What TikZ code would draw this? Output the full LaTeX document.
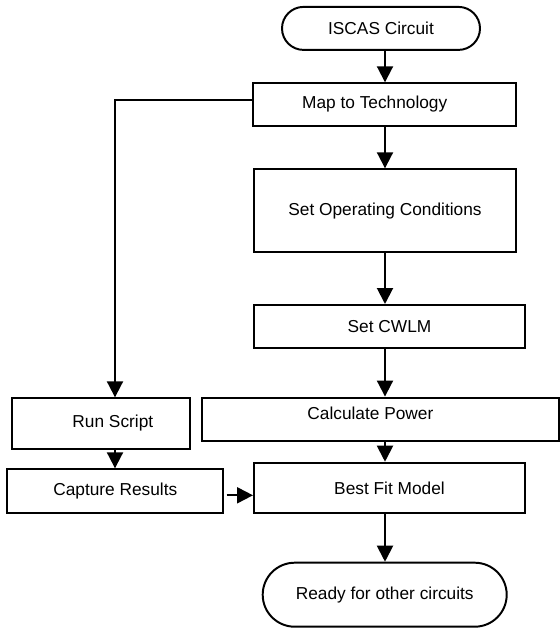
\documentclass[tikz,border=0pt]{standalone}
\usepackage{fontspec}
\setmainfont{Liberation Sans}
\usetikzlibrary{shapes.misc,arrows.meta}

\tikzset{
  stepbox/.style={draw, line width=1.4pt, inner sep=0pt},
  terminal/.style={rounded rectangle, draw, line width=1.4pt, inner sep=0pt},
  flow/.style={line width=1.4pt, -{Triangle[length=4mm,width=4mm]}}
}

\begin{document}
\begin{tikzpicture}[font=\fontsize{12.3}{14}\selectfont]
	\useasboundingbox (0,0) rectangle (14,-15.7);
	% x of the main column and of the side branch
	\coordinate (spine) at (9.625,0);
	\coordinate (side) at (2.875,0);
	
	\node[terminal, minimum width=4.95cm, minimum height=1.075cm] (iscas) at (9.525,-0.71) {ISCAS Circuit};
	\node[stepbox, minimum width=6.57cm, minimum height=1.06cm, label={[xshift=-2.5mm]center:Map to Technology}] (map) at (9.617,-2.612) {};
	\node[stepbox, minimum width=6.55cm, minimum height=2.075cm] (setop) at (9.625,-5.27) {Set Operating Conditions};
	\node[stepbox, minimum width=6.775cm, minimum height=1.067cm] (cwlm) at (9.7375,-8.158) {Set CWLM};
	\node[stepbox, minimum width=8.93cm, minimum height=1.083cm, label={[yshift=1.5mm, xshift=-2.5mm]center:Calculate Power}] (calc) at (9.51,-10.48) {};
	\node[stepbox, minimum width=6.775cm, minimum height=1.265cm] (bestfit) at (9.7375,-12.2) {Best Fit Model};
	\node[terminal, minimum width=6.1cm, minimum height=1.6cm] (ready) at (9.6175,-14.8675) {Ready for other circuits};
	
	\node[stepbox, minimum width=4.458cm, minimum height=1.26cm, label={[xshift=3mm]center:Run Script}] (run) at (2.521,-10.5875) {};
	\node[stepbox, minimum width=5.4cm, minimum height=1.1cm] (capture) at (2.8825,-12.2825) {Capture Results};
	
	% main column
	\draw[flow] (iscas.south -| spine) -- (map.north -| spine);
	\draw[flow] (map.south -| spine) -- (setop.north -| spine);
	\draw[flow] (setop.south -| spine) -- (cwlm.north -| spine);
	\draw[flow] (cwlm.south -| spine) -- (calc.north -| spine);
	\draw[flow] (calc.south -| spine) -- (bestfit.north -| spine);
	\draw[flow] (bestfit.south -| spine) -- (ready.north -| spine);
	
	% side branch
	\draw[flow] ([yshift=1mm]map.west) -| (run.north -| side);
	\draw[flow] (run.south -| side) -- (capture.north -| side);
	\draw[flow, shorten <=0.6mm] ([yshift=-1mm]capture.east) -- ([yshift=-1mm]capture.east -| bestfit.west);
\end{tikzpicture}
\end{document}
